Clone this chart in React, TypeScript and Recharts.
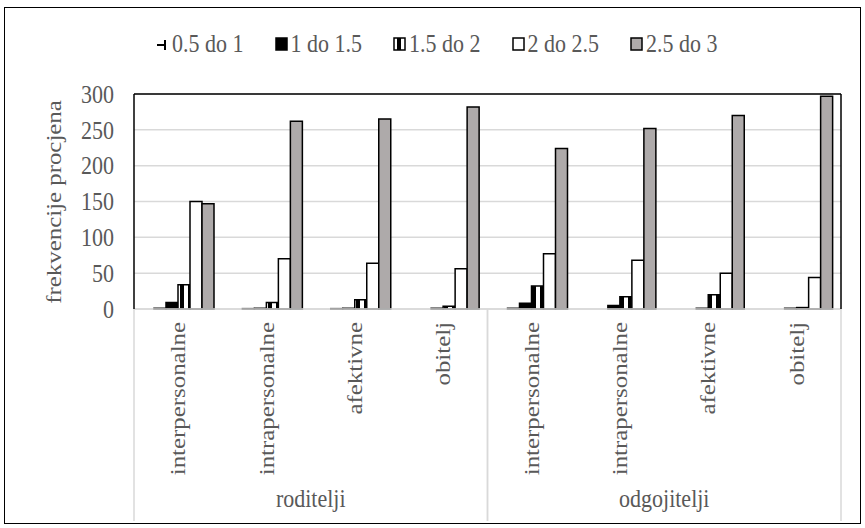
import { BarChart, Bar, XAxis, YAxis, CartesianGrid, ReferenceLine } from "recharts";

const groups = ["roditelji", "odgojitelji"];
const categories = ["interpersonalne", "intrapersonalne", "afektivne", "obitelj"];
const seriesNames = ["0 do 0.5", "0.5 do 1", "1 do 1.5", "1.5 do 2", "2 do 2.5", "2.5 do 3"];
const yTicks = [0, 50, 100, 150, 200, 250, 300];
const yTitle = "frekvencije procjena";

// one value per category, roditelji first, then odgojitelji
const s0to05 = [0, 0, 0, 0, 0, 0, 0, 0];
const s05to1 = [1, 0.5, 0.5, 0, 1, 0, 0, 0];
const s1to15 = [9, 1, 1, 1, 8, 5, 1, 1];
const s15to2 = [34, 9, 13, 4, 32, 17, 20, 2];
const s2to25 = [150, 70, 64, 56, 77, 68, 50, 44];
const s25to3 = [147, 262, 265, 282, 224, 252, 270, 297];

const seriesValues = [s0to05, s05to1, s1to15, s15to2, s2to25, s25to3];
const fills = ["none", "#000000", "#000000", "url(#stripes)", "#ffffff", "#aeaaaa"];
const inLegend = [false, true, true, true, true, true];

const data = groups.flatMap((g, gi) =>
  categories.map((c, ci) => {
    const i = gi * categories.length + ci;
    const row: any = { group: g, name: c };
    seriesNames.forEach((s, si) => (row[s] = seriesValues[si][i]));
    return row;
  })
);

const FONT = "Liberation Serif, DejaVu Serif, serif";
const TEXT = "#595959";
const FS = 22;
const STRETCH = 1.13; // the source text is a bit taller than wide

function CategoryTick({ x, y, payload, index }: any) {
  const half = payload.offset ?? 44;
  const pos = index % categories.length;
  const row = data[index];
  return (
    <g>
      <text
        transform={`translate(${x + 7},${y + 13}) scale(1,${STRETCH}) rotate(-90)`}
        textAnchor="end"
        fontFamily={FONT}
        fontSize={FS}
        fill={TEXT}
      >
        {payload.value}
      </text>
      {pos === 0 && (
        <line x1={x - half} x2={x - half} y1={y} y2={y + 212} stroke="#d9d9d9" strokeWidth={1.5} />
      )}
      {pos === categories.length - 1 && (
        <line x1={x + half} x2={x + half} y1={y} y2={y + 212} stroke="#d9d9d9" strokeWidth={1.5} />
      )}
      {pos === categories.length / 2 - 1 && (
        <text
          transform={`translate(${x + half},${y + 198}) scale(1,${STRETCH})`}
          textAnchor="middle"
          fontFamily={FONT}
          fontSize={FS}
          fill={TEXT}
        >
          {row.group}
        </text>
      )}
    </g>
  );
}

function ValueTick({ x, y, payload }: any) {
  return (
    <text
      transform={`translate(${x},${y}) scale(1,${STRETCH})`}
      dy="0.35em"
      textAnchor="end"
      fontFamily={FONT}
      fontSize={FS}
      fill={TEXT}
    >
      {payload.value}
    </text>
  );
}

function LegendIcon({ index }: { index: number }) {
  if (index === 1) {
    return (
      <svg width={13} height={14}>
        <line x1={1} x2={9} y1={8} y2={8} stroke="#000" strokeWidth={2} />
        <line x1={9} x2={9} y1={3} y2={13} stroke="#000" strokeWidth={2} />
      </svg>
    );
  }
  return (
    <svg width={13} height={14}>
      <rect x={1} y={1} width={11} height={12} fill={fills[index]} stroke="#000" strokeWidth={1.5} />
    </svg>
  );
}

export default function App() {
  return (
    <div style={{ position: "fixed", left: 0, top: 0, width: 865, height: 528, background: "#fff" }}>
      <svg width={0} height={0} style={{ position: "absolute" }}>
        <defs>
          <pattern id="stripes" patternUnits="userSpaceOnUse" width={8} height={4}>
            <rect x={0} y={0} width={8} height={4} fill="#fff" />
            <rect x={4} y={0} width={4} height={4} fill="#000" />
          </pattern>
        </defs>
      </svg>
      <div
        style={{
          position: "absolute",
          left: 4,
          top: 7,
          width: 855,
          height: 515,
          border: "1.5px solid #000",
          pointerEvents: "none",
        }}
      />
      <div
        style={{
          position: "absolute",
          left: 156,
          top: 31,
          display: "flex",
          fontFamily: FONT,
          fontSize: FS,
          color: TEXT,
          lineHeight: "26px",
        }}
      >
        {seriesNames.map((s, i) =>
          inLegend[i] ? (
            <div key={s} style={{ width: 118.5, display: "flex", alignItems: "center", gap: 3 }}>
              <LegendIcon index={i} />
              <span style={{ display: "inline-block", transform: `scaleY(${STRETCH})` }}>{s}</span>
            </div>
          ) : null
        )}
      </div>
      <svg width={865} height={528} style={{ position: "absolute", left: 0, top: 0, pointerEvents: "none" }}>
        <text
          transform={`translate(61,202) scale(1,${STRETCH}) rotate(-90)`}
          textAnchor="middle"
          fontFamily={FONT}
          fontSize={FS}
          fill={TEXT}
        >
          {yTitle}
        </text>
      </svg>
      <BarChart
        width={865}
        height={528}
        data={data}
        margin={{ top: 94, right: 0, left: 0, bottom: 0 }}
        barGap={0}
        style={{ position: "absolute", left: 0, top: 0 }}
      >
        <CartesianGrid vertical={false} stroke="#d9d9d9" strokeWidth={1.5} />
        <XAxis
          dataKey="name"
          interval={0}
          height={219}
          tickLine={false}
          tickSize={0}
          tickMargin={0}
          axisLine={{ stroke: "#d9d9d9", strokeWidth: 1.5 }}
          tick={<CategoryTick />}
        />
        <YAxis
          width={134}
          domain={[0, 300]}
          ticks={yTicks}
          tickLine={false}
          tickSize={0}
          tickMargin={20}
          axisLine={{ stroke: "#000", strokeWidth: 1.5 }}
          tick={<ValueTick />}
        />
        <YAxis
          yAxisId="right"
          orientation="right"
          width={24}
          domain={[0, 300]}
          tick={false}
          tickLine={false}
          axisLine={{ stroke: "#000", strokeWidth: 1.5 }}
        />
        <ReferenceLine y={300} stroke="#000" strokeWidth={1.5} />
        {seriesNames.map((s, i) => (
          <Bar
            key={s}
            dataKey={s}
            barSize={12}
            fill={fills[i]}
            stroke={i === 0 ? "none" : "#000"}
            strokeWidth={1.5}
            isAnimationActive={false}
          />
        ))}
      </BarChart>
    </div>
  );
}
